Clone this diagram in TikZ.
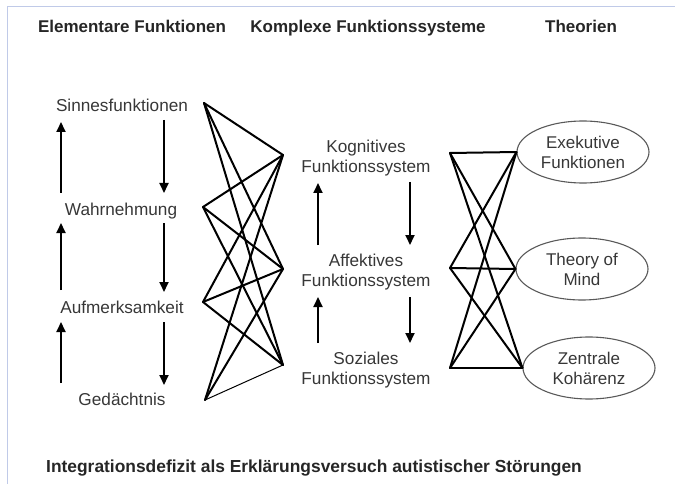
\documentclass[tikz,border=0pt]{standalone}
\usepackage{fontspec}
\setmainfont{Liberation Sans}
\usetikzlibrary{arrows.meta,shapes.geometric}
\definecolor{frame}{RGB}{192,202,232}
\definecolor{txt}{RGB}{55,55,55}
\begin{document}
\begin{tikzpicture}[x=1pt,y=-1pt,
  lbl/.style={font=\fontsize{17.2}{20}\selectfont, text=txt, align=center, inner sep=0pt},
  hdr/.style={font=\bfseries\fontsize{17}{20}\selectfont, text=black!85, inner sep=0pt, anchor=base},
  net/.style={line width=2pt, line cap=round},
  arr/.style={line width=1.8pt, -{Triangle[length=10pt,width=9pt]}},
  theo/.style={draw=black!65, line width=1.1pt, ellipse, minimum width=132pt, minimum height=62pt, inner sep=0pt, align=center, text=txt, font=\fontsize{17}{20}\selectfont}]
\useasboundingbox (0,0) rectangle (675,484);
\draw[frame, line width=1pt] (7,484) -- (7,7) -- (675,7);

% headers
\node[hdr] (h1) at (132,33) {Elementare Funktionen};
\node[hdr] (h2) at (368,33) {Komplexe Funktionssysteme};
\node[hdr] (h3) at (581,33) {Theorien};
\node[hdr, font=\bfseries\fontsize{17.4}{20}\selectfont] (foot) at (314,472) {Integrationsdefizit als Erklärungsversuch autistischer Störungen};

% left column
\node[lbl] (sf) at (122,105) {Sinnesfunktionen};
\node[lbl] (wa) at (121,211) {Wahrnehmung};
\node[lbl] (au) at (122,307) {Aufmerksamkeit};
\node[lbl] (ge) at (122,399) {Gedächtnis};

% middle column
\node[lbl] (ko) at (366,158) {Kognitives\\Funktionssystem};
\node[lbl] (af) at (366,272) {Affektives\\Funktionssystem};
\node[lbl] (so) at (366,370) {Soziales\\Funktionssystem};

% theories
\node[theo] (ex) at (583,152) {Exekutive\\Funktionen};
\node[theo] (tm) at (582,269) {Theory of\\Mind};
\node[theo] (zk) at (589,368) {Zentrale\\Kohärenz};

% arrows left
\draw[arr] (61,193) -- (61,122);
\draw[arr] (61,290) -- (61,223);
\draw[arr] (61,383) -- (61,322);
\draw[arr] (164,120) -- (164,193);
\draw[arr] (164,223) -- (164,292);
\draw[arr] (164,322) -- (164,385);
% arrows middle
\draw[arr] (318,245) -- (318,183);
\draw[arr] (318,343) -- (318,297);
\draw[arr] (410,182) -- (410,245);
\draw[arr] (410,297) -- (410,343);

% left network
\coordinate (L1) at (204,103);
\coordinate (L2) at (203,207);
\coordinate (L3) at (203,302);
\coordinate (L4) at (205,400);
\coordinate (R1) at (283,155);
\coordinate (R2) at (283,269);
\coordinate (R3) at (283,365);
\foreach \a in {L1,L2,L3}{
  \foreach \b in {R1,R2,R3}{
    \draw[net] (\a) -- (\b);
  }
}
\draw[net] (L4) -- (R1);
\draw[net] (L4) -- (R2);
\draw[line width=1pt] (L4) -- (R3);

% right network
\coordinate (M1) at (450,153);
\coordinate (M2) at (450,268);
\coordinate (M3) at (450,368);
\foreach \a in {M1,M2,M3}{
  \foreach \b in {ex.west,tm.west,zk.west}{
    \draw[net] (\a) -- (\b);
  }
}
\end{tikzpicture}
\end{document}
